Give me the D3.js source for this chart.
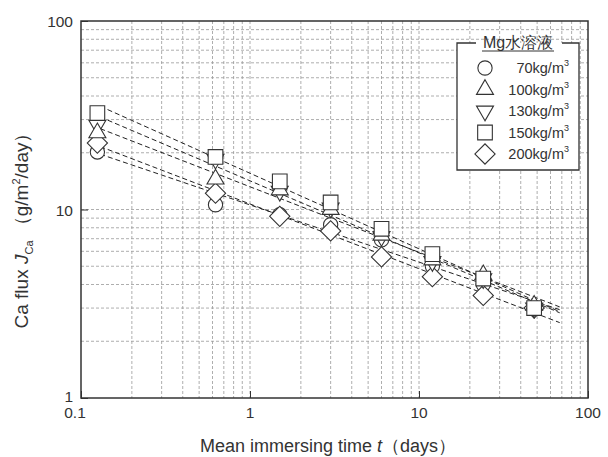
<!DOCTYPE html>
<html>
<head>
<meta charset="utf-8">
<script src="https://cdn.jsdelivr.net/npm/d3@7"></script>
<style>
  body { margin: 0; background: #fff; }
  text { font-family: "Liberation Sans", Arial, sans-serif; fill: #333; }
</style>
</head>
<body>
<script>
// mean immersing time (days)
var times = [0.125, 0.625, 1.5, 3, 6, 12, 24, 48];
var seriesNames = ["70", "100", "130", "150", "200"];
var s70  = [20.2, 10.6, 9.4, 8.3, 6.9, 5.0, 4.0, 3.0];
var s100 = [25.5, 14.5, 12.7, 10.0, 7.3, 5.4, 4.5, 3.1];
var s130 = [28.0, 18.5, 12.5, 10.2, 7.2, 5.3, 4.3, 3.0];
var s150 = [32.5, 19.0, 14.1, 10.9, 7.9, 5.8, 4.3, 3.0];
var s200 = [22.5, 12.2, 9.2, 7.7, 5.6, 4.4, 3.5, 3.0];
var xTicks = [0.1, 1, 10, 100];
var yTicks = [1, 10, 100];
var fitRange = [0.13, 68];

;(function() {

var allSeries = [s70, s100, s130, s150, s200];

var width = 608, height = 457;
var pLeft = 81, pRight = 588, pTop = 21, pBottom = 398;

var svg = d3.select("body").append("svg")
  .attr("width", width)
  .attr("height", height);

var x = d3.scaleLog().domain([0.1, 100]).range([pLeft, pRight]);
var y = d3.scaleLog().domain([1, 100]).range([pBottom, pTop]);

// minor + major grid lines
var gridX = [], gridY = [];
[0.1, 1, 10].forEach(function(d) {
  for (var k = 1; k < 10; k++) gridX.push(d * k);
});
[1, 10].forEach(function(d) {
  for (var k = 1; k < 10; k++) gridY.push(d * k);
});
gridX = gridX.filter(function(v) { return v > 0.1 + 1e-9; });
gridY = gridY.filter(function(v) { return v > 1 + 1e-9; });

svg.append("g").selectAll("line").data(gridX).enter().append("line")
  .attr("x1", function(d) { return x(d); })
  .attr("x2", function(d) { return x(d); })
  .attr("y1", pTop).attr("y2", pBottom)
  .attr("stroke", "#999").attr("stroke-width", 0.8)
  .attr("stroke-dasharray", "3,2");

svg.append("g").selectAll("line").data(gridY).enter().append("line")
  .attr("y1", function(d) { return y(d); })
  .attr("y2", function(d) { return y(d); })
  .attr("x1", pLeft).attr("x2", pRight)
  .attr("stroke", "#999").attr("stroke-width", 0.8)
  .attr("stroke-dasharray", "3,2");

// axes (ticks inward, labels drawn separately)
var xaxis = d3.axisBottom(x).tickValues(xTicks).tickSize(-7).tickFormat("");
var yaxis = d3.axisLeft(y).tickValues(yTicks).tickSize(-7).tickFormat("");
svg.append("g").attr("transform", "translate(0," + pBottom + ")").call(xaxis)
  .call(function(g) { g.select(".domain").remove(); g.selectAll("line").attr("stroke", "#333"); });
svg.append("g").attr("transform", "translate(" + pLeft + ",0)").call(yaxis)
  .call(function(g) { g.select(".domain").remove(); g.selectAll("line").attr("stroke", "#333"); });

svg.append("rect")
  .attr("x", pLeft).attr("y", pTop)
  .attr("width", pRight - pLeft).attr("height", pBottom - pTop)
  .attr("fill", "none").attr("stroke", "#333").attr("stroke-width", 1.5);

svg.append("g").selectAll("text").data(xTicks).enter().append("text")
  .attr("x", function(d) { return x(d) - (d == 0.1 ? 6 : 0); })
  .attr("y", pBottom + 20)
  .attr("text-anchor", "middle")
  .attr("font-size", 15.5)
  .text(function(d) { return d; });

svg.append("g").selectAll("text").data(yTicks).enter().append("text")
  .attr("x", pLeft - 8)
  .attr("y", function(d) { return y(d) + (d == 1 ? 4 : 6); })
  .attr("text-anchor", "end")
  .attr("font-size", 15.5)
  .text(function(d) { return d; });

// power-law fit lines
function fit(vals) {
  var lx = times.map(Math.log10), ly = vals.map(Math.log10);
  var mx = d3.mean(lx), my = d3.mean(ly);
  var num = d3.sum(lx, function(v, i) { return (v - mx) * (ly[i] - my); });
  var den = d3.sum(lx, function(v) { return (v - mx) * (v - mx); });
  var b = num / den, a = my - b * mx;
  return function(t) { return Math.pow(10, a + b * Math.log10(t)); };
}

var line = d3.line()
  .x(function(d) { return x(d[0]); })
  .y(function(d) { return y(d[1]); });

allSeries.forEach(function(vals) {
  var f = fit(vals);
  svg.append("path")
    .datum(fitRange.map(function(t) { return [t, f(t)]; }))
    .attr("d", line)
    .attr("fill", "none")
    .attr("stroke", "#222")
    .attr("stroke-width", 1)
    .attr("stroke-dasharray", "5,3");
});

// markers
var symbols = [
  { type: d3.symbolCircle, size: 160, rot: 0 },
  { type: d3.symbolTriangle, size: 125, rot: 0 },
  { type: d3.symbolTriangle, size: 125, rot: 180 },
  { type: d3.symbolSquare, size: 215, rot: 0 },
  { type: d3.symbolSquare, size: 205, rot: 45 }
];

var drawOrder = [0, 4, 2, 1, 3];
drawOrder.forEach(function(si) {
  var sym = symbols[si];
  svg.append("g").selectAll("path").data(allSeries[si]).enter().append("path")
    .attr("d", d3.symbol().type(sym.type).size(sym.size))
    .attr("transform", function(d, i) {
      return "translate(" + x(times[i]) + "," + y(d) + ") rotate(" + sym.rot + ")";
    })
    .attr("fill", "#fff")
    .attr("stroke", "#333")
    .attr("stroke-width", 1.1);
});

// legend
var lg = svg.append("g");
lg.append("rect").attr("x", 457).attr("y", 43).attr("width", 122).attr("height", 127).attr("fill", "#fff");
lg.append("path")
  .attr("d", "M476,43 H457 V170 H579 V43 H562")
  .attr("fill", "none").attr("stroke", "#333").attr("stroke-width", 1.3);
lg.append("text").attr("x", 518).attr("y", 48)
  .attr("text-anchor", "middle").attr("font-size", 16)
  .text("Mg水溶液");
lg.append("line").attr("x1", 482).attr("x2", 554).attr("y1", 51).attr("y2", 51)
  .attr("stroke", "#333").attr("stroke-width", 1);

seriesNames.forEach(function(name, i) {
  var cy = 68 + i * 21.5;
  var sym = symbols[i];
  lg.append("path")
    .attr("d", d3.symbol().type(sym.type).size(sym.size))
    .attr("transform", "translate(485," + cy + ") rotate(" + sym.rot + ")")
    .attr("fill", "#fff").attr("stroke", "#333").attr("stroke-width", 1.1);
  var t = lg.append("text").attr("x", 569).attr("y", cy + 5)
    .attr("text-anchor", "end").attr("font-size", 14.5);
  t.append("tspan").text(name + "kg/m");
  t.append("tspan").attr("font-size", 9).attr("dy", -7).text("3");
});

// axis titles
var xt = svg.append("text").attr("x", 328).attr("y", 452)
  .attr("text-anchor", "middle").attr("font-size", 18);
xt.append("tspan").text("Mean immersing time ");
xt.append("tspan").attr("font-style", "italic").text("t");
xt.append("tspan").text("（days）");

var yt = svg.append("text")
  .attr("transform", "translate(28,226) rotate(-90)")
  .attr("text-anchor", "middle").attr("font-size", 19);
yt.append("tspan").text("Ca flux  ");
yt.append("tspan").attr("font-style", "italic").text("J");
yt.append("tspan").attr("font-size", 11).attr("dy", 5).text("Ca");
yt.append("tspan").attr("dy", -5).text(" （g/m");
yt.append("tspan").attr("font-size", 11).attr("dy", -8).text("2");
yt.append("tspan").attr("dy", 8).text("/day）");

})();
</script>
</body>
</html>
